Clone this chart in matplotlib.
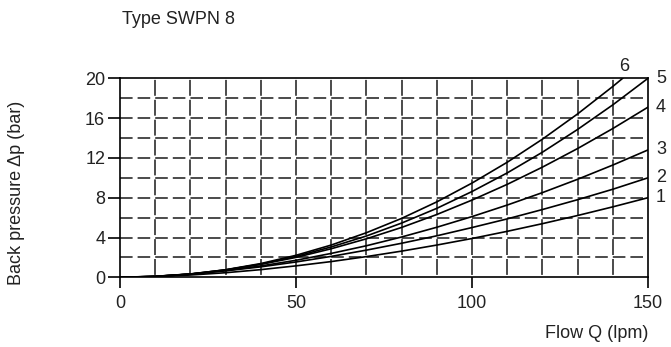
import matplotlib
matplotlib.use("Agg")
import matplotlib.pyplot as plt
import numpy as np

plt.rcParams['font.family'] = ['Liberation Sans', 'DejaVu Sans']
plt.rcParams['lines.scale_dashes'] = False

# Data (flow in lpm, back pressure in bar)
flow = [0, 10, 20, 30, 40, 50, 60, 70, 80, 90, 100, 110, 120, 130, 140, 150]
curve1 = [0, 0.07, 0.23, 0.46, 0.77, 1.15, 1.58, 2.08, 2.63, 3.24, 3.90, 4.62, 5.39, 6.21, 7.08, 8.0]
curve2 = [0, 0.10, 0.32, 0.65, 1.05, 1.54, 2.10, 2.73, 3.42, 4.17, 5.00, 5.87, 6.81, 7.80, 8.85, 10.0]
curve3 = [0, 0.09, 0.32, 0.67, 1.14, 1.71, 2.40, 3.17, 4.05, 5.03, 6.10, 7.26, 8.51, 9.85, 11.28, 12.8]
curve4 = [0, 0.09, 0.34, 0.74, 1.30, 2.00, 2.87, 3.87, 5.01, 6.31, 7.76, 9.34, 11.07, 12.94, 14.95, 17.1]
curve5 = [0, 0.08, 0.32, 0.74, 1.33, 2.10, 3.05, 4.15, 5.45, 6.93, 8.62, 10.49, 12.57, 14.86, 17.33, 20.0]
flow6 = [0, 10, 20, 30, 40, 50, 60, 70, 80, 90, 100, 110, 120, 130, 140, 142.8]
curve6 = [0, 0.08, 0.32, 0.76, 1.38, 2.21, 3.24, 4.48, 5.92, 7.58, 9.47, 11.56, 13.88, 16.42, 19.18, 20.0]
curve_labels = ["1", "2", "3", "4", "5", "6"]

xticks = [0, 50, 100, 150]
yticks = [0, 4, 8, 12, 16, 20]

W, H = 671, 347
fig = plt.figure(figsize=(W / 100, H / 100), dpi=100)
ax = fig.add_axes([120 / W, 1 - 277.3 / H, 528 / W, 199 / H])
ax.set_xlim(0, 150)
ax.set_ylim(0, 20)

px = 72 / 100.0  # points per pixel
grid_c = '#1a1a1a'
# horizontal dashed grid lines
for yv in range(2, 20, 2):
    ax.plot([0, 150], [yv, yv], color=grid_c, lw=1.1,
            linestyle=(0, (12.6 * px, 5.0 * px)), zorder=1)
# vertical dashed grid lines (drawn from top to bottom)
for xv in range(10, 150, 10):
    ax.plot([xv, xv], [20, 0], color=grid_c, lw=1.1,
            linestyle=(18.0 * px, (15.9 * px, 4.0 * px)), zorder=1)

series = [(flow, curve1), (flow, curve2), (flow, curve3),
          (flow, curve4), (flow, curve5), (flow6, curve6)]
for (fx, fy), lab in zip(series, curve_labels):
    ax.plot(fx, fy, color='black', lw=1.2, zorder=3, clip_on=True)
    if lab == "6":
        ax.annotate(lab, (fx[-1], fy[-1]), xytext=(2 * px, 12 * px),
                    textcoords='offset points', ha='center', va='center',
                    fontsize=13, color='#222222', annotation_clip=False)
    else:
        ax.annotate(lab, (fx[-1], fy[-1]), xytext=(8 * px, 0),
                    textcoords='offset points', ha='left', va='center',
                    fontsize=13, color='#222222', annotation_clip=False)

for s in ax.spines.values():
    s.set_color('black')
    s.set_linewidth(1.2)

ax.set_xticks(xticks)
ax.set_yticks(yticks)
ax.tick_params(axis='x', direction='out', length=11 * px, width=1.2,
               pad=5, labelsize=13, labelcolor='#222222')
ax.tick_params(axis='y', direction='out', length=12 * px, width=1.2,
               pad=2, labelsize=13, labelcolor='#222222')

fig.text(122 / W, 1 - 20 / H, "Type SWPN 8", ha='left', va='center',
         fontsize=13, color='#222222')
fig.text(17 / W, 1 - 193 / H, "Back pressure \u0394p (bar)", rotation=90,
         ha='center', va='center', fontsize=13, color='#222222')
fig.text(648 / W, 1 - 333 / H, "Flow Q (lpm)", ha='right', va='center',
         fontsize=13, color='#222222')

fig.savefig("out.png", dpi=100)
